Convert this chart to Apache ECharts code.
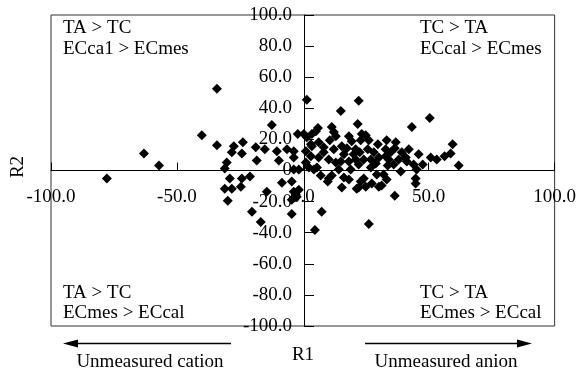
<!DOCTYPE html>
<html>
<head>
<meta charset="utf-8">
<script src="https://cdn.jsdelivr.net/npm/echarts@6/dist/echarts.min.js"></script>
<style>
  html, body { margin: 0; padding: 0; background: #fff; }
  #chart { width: 579px; height: 369px; }
</style>
</head>
<body>
<div id="chart"></div>
<script>
// R1 (x) and R2 (y), point by point
const r1 = [
  -77.8, -63.1, -57.1, -40.1, -34.1, -34.1, -27.4, -23.8, -28.2, -24.2,
  -30.2, -31.0, -18.3, -18.7, -15.1, -12.3, -10.3, -9.5, -6.3, -3.6,
  -3.6, -2.0, -3.6, -1.6, -29.0, -31.0, -28.2, -29.8, -24.2, -24.6,
  -21.0, -14.3, -20.2, -16.7, -8.3, -4.4, -3.6, -1.6, -2.4, -3.6,
  -4.4, -4.4, -2.8,
  1.6, 15.1, 22.2, 21.8, 43.3, 50.4, 5.2, 3.6, 11.5, 12.3,
  1.6, 10.7, 18.3, 25.0, 19.4, 23.0, 6.3, 3.6, 8.3, 12.3,
  15.5, 17.5, 21.0, 22.6, 25.8, 29.8, 28.2, 32.9, 36.9, 36.5,
  34.9, 39.3, 40.9, 38.1, 32.9, 30.2, 27.0, 24.2, 21.0, 18.3,
  15.1, 13.1, 8.3, 6.3, 3.2, 1.2, 1.2, 5.6, 4.4, 7.1,
  10.3, 11.5, 18.3, 15.5, 23.0, 24.2, 22.2, 25.0, 27.4, 29.4,
  30.2, 27.0, 31.3, 36.5, 38.9, 33.7, 29.0, 41.3, 44.0, 46.0,
  45.2, 44.8, 44.8, 47.6, 50.8, 53.2, 56.3, 58.7, 59.5, 61.9,
  4.8, 7.5, 26.2, 9.9, 21.4, 3.2,
  0.4, 13.1, 23.4, 6.0, 16.3, 20.2, 34.1, 42.1, 10.3, 14.3,
  32.1, 36.1, 19.0, 22.2, 2.4,
  26.2, 33.3, 16.3, 33.3
];
const r2 = [
  -5.2, 11.0, 3.2, 22.7, 52.6, 16.2, 15.6, 18.2, 11.7, 11.0,
  5.2, 1.3, 6.5, 14.9, 13.6, 29.2, 12.3, 6.5, 13.6, 12.3,
  8.4, 23.4, 0.6, 0.6, -5.2, -11.7, -11.7, -19.5, -5.2, -10.4,
  -3.9, -13.6, -26.6, -33.1, -7.8, -7.1, -13.6, -12.3, -16.9, -17.5,
  -18.8, -27.9, -15.6,
  45.5, 38.3, 44.8, 29.9, 27.9, 33.8, 25.3, 23.4, 27.9, 24.7,
  21.4, 19.5, 22.1, 22.7, 18.8, 19.5, 18.2, 15.6, 14.9, 13.6,
  15.6, 14.3, 13.6, 11.7, 13.6, 16.9, 11.7, 13.6, 18.2, 14.3,
  11.7, 11.7, 8.4, 7.1, 9.1, 8.4, 7.1, 7.1, 7.1, 5.8,
  5.8, 5.2, 11.7, 8.4, 9.1, 12.3, 5.2, 1.9, 0.6, -3.2,
  -5.2, -3.2, -5.8, -11.0, -7.1, -5.2, -11.0, -10.4, -8.4, -2.6,
  -10.4, 1.9, -9.7, -16.2, -0.6, 3.2, 4.5, 5.8, 3.9, 10.4,
  0.6, -5.2, -8.4, 3.9, 8.4, 7.1, 9.1, 11.0, 16.9, 3.2,
  -38.3, -26.6, -34.4, -7.1, -11.7, 16.9,
  23.4, 22.1, 23.4, 27.3, 10.4, 10.4, 7.1, 13.6, 7.1, 0.6,
  -2.6, 3.9, 0.6, 3.9, 1.9,
  19.5, 19.5, -4.5, -5.8
];

const xMin = -100, xMax = 100, xStep = 50;
const yMin = -100, yMax = 100, yStep = 20;

const font = 'Liberation Serif';
const fs = 19;

// grid box in pixels
const gL = 51, gR = 22, gT = 15, gB = 43;
const gW = 579 - gL - gR, gH = 369 - gT - gB;

const chart = echarts.init(document.getElementById('chart'));

function note(x, y, s) {
  return {
    type: 'text', left: x, top: y,
    style: { text: s, font: fs + 'px "' + font + '"', fill: '#000' }
  };
}

const option = {
  animation: false,
  grid: {
    left: gL, right: gR, top: gT, bottom: gB,
    show: true, borderColor: '#333', borderWidth: 1
  },
  xAxis: {
    type: 'value', min: xMin, max: xMax, interval: xStep,
    position: 'bottom',
    // move the axis up to R2 = 0
    offset: -gH * (0 - yMin) / (yMax - yMin),
    splitLine: { show: false },
    axisLine: { onZero: false, lineStyle: { color: '#000', width: 1 } },
    axisTick: { inside: true, length: 8, lineStyle: { color: '#000' } },
    axisLabel: {
      margin: 17, color: '#000', fontFamily: font, fontSize: fs,
      formatter: v => v.toFixed(1)
    }
  },
  yAxis: {
    type: 'value', min: yMin, max: yMax, interval: yStep,
    position: 'left',
    // move the axis right to R1 = 0
    offset: -gW * (0 - xMin) / (xMax - xMin),
    splitLine: { show: false },
    axisLine: { onZero: false, lineStyle: { color: '#000', width: 1 } },
    axisTick: { inside: true, length: 10, lineStyle: { color: '#000' } },
    axisLabel: {
      margin: 12, color: '#000', fontFamily: font, fontSize: fs,
      padding: [5, 0, 0, 0],
      formatter: v => v === 0 ? '0' : v.toFixed(1)
    }
  },
  series: [{
    type: 'scatter',
    symbol: 'diamond',
    symbolSize: 10,
    itemStyle: { color: '#000', opacity: 1 },
    data: r1.map((x, i) => [x, r2[i]])
  }],
  graphic: [
    note(63, 19, 'TA > TC'),
    note(63, 40, 'ECca1 > ECmes'),
    note(420, 19, 'TC > TA'),
    note(420, 40, 'ECcal > ECmes'),
    note(63, 284, 'TA > TC'),
    note(63, 304, 'ECmes > ECcal'),
    note(420, 284, 'TC > TA'),
    note(420, 304, 'ECmes > ECcal'),
    {
      type: 'text', x: 18, y: 167, rotation: Math.PI / 2,
      style: { text: 'R2', font: fs + 'px "' + font + '"', fill: '#000',
               align: 'center', verticalAlign: 'middle' }
    },
    {
      type: 'text', x: 303, y: 355,
      style: { text: 'R1', font: fs + 'px "' + font + '"', fill: '#000',
               align: 'center', verticalAlign: 'middle' }
    },
    {
      type: 'text', x: 150, y: 362,
      style: { text: 'Unmeasured cation', font: fs + 'px "' + font + '"', fill: '#000',
               align: 'center', verticalAlign: 'middle' }
    },
    {
      type: 'text', x: 446, y: 362,
      style: { text: 'Unmeasured anion', font: fs + 'px "' + font + '"', fill: '#000',
               align: 'center', verticalAlign: 'middle' }
    },
    // arrows
    { type: 'line', shape: { x1: 70, y1: 343.5, x2: 231, y2: 343.5 }, style: { stroke: '#000', lineWidth: 1.5 } },
    { type: 'polygon', shape: { points: [[63, 343.5], [78, 339.5], [78, 347.5]] }, style: { fill: '#000' } },
    { type: 'line', shape: { x1: 365, y1: 343.5, x2: 525, y2: 343.5 }, style: { stroke: '#000', lineWidth: 1.5 } },
    { type: 'polygon', shape: { points: [[532, 343.5], [517, 339.5], [517, 347.5]] }, style: { fill: '#000' } }
  ]
};

chart.setOption(option);
</script>
</body>
</html>
